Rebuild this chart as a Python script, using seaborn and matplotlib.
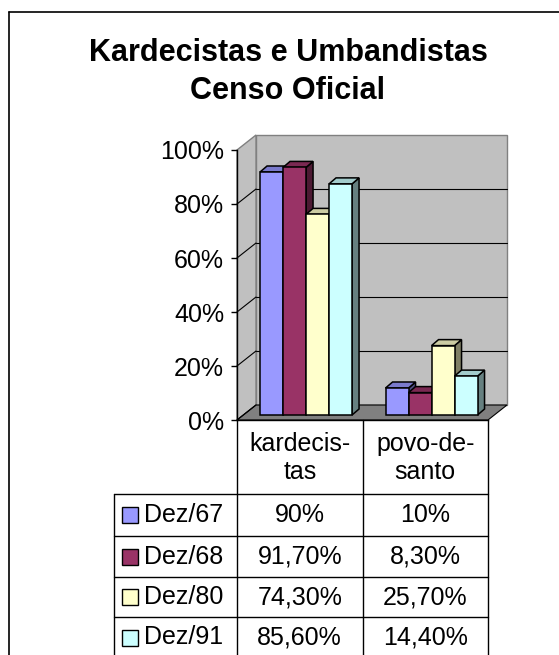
"""Kardecistas e Umbandistas - Censo Oficial (3d column chart with data table)."""

import numpy as np
import pandas as pd
import matplotlib
matplotlib.use('Agg')
import matplotlib.pyplot as plt
import matplotlib.transforms as mtransforms
from matplotlib.colors import to_rgb
from matplotlib.lines import Line2D
from matplotlib.patches import Polygon, Rectangle
import seaborn as sns

# Data
categorias = ['kardecistas', 'povo-de-santo']
rotulos_categorias = ['kardecis-\ntas', 'povo-de-\nsanto']
anos = ['Dez/67', 'Dez/68', 'Dez/80', 'Dez/91']
kardecistas = [90.0, 91.7, 74.3, 85.6]
povo_de_santo = [10.0, 8.3, 25.7, 14.4]
cores = ['#9999FF', '#993366', '#FFFFCC', '#CCFFFF']
yticks = [0, 20, 40, 60, 80, 100]

W, H, DPI = 559, 655, 100
FS = 18

sns.set_theme(style='white')
plt.rcParams['font.family'] = ['Liberation Sans', 'DejaVu Sans']

df = pd.DataFrame({
    'categoria': np.repeat(categorias, len(anos)),
    'ano': anos * len(categorias),
    'valor': kardecistas + povo_de_santo,
})


def fx(x):
    return x / W


def fy(y):
    return (H - y) / H


def shade(color, f):
    return tuple(c * f for c in to_rgb(color))


def fmt(v):
    if float(v).is_integer():
        return f'{int(v)}%'
    return f'{v:.2f}%'.replace('.', ',')


fig = plt.figure(figsize=(W / DPI, H / DPI), dpi=DPI)

# front plane of the 3d box (pixels)
x0, x1, y0, y1 = 237, 488, 420, 150
ax = fig.add_axes([fx(x0), fy(y0), (x1 - x0) / W, (y0 - y1) / H])
ax.patch.set_visible(False)

px_x = 2.0 / (x1 - x0)
px_y = 100.0 / (y0 - y1)


def shift(dx, dy):
    return ax.transData + mtransforms.ScaledTranslation(dx / DPI, dy / DPI, fig.dpi_scale_trans)


sns.barplot(data=df, x='categoria', y='valor', hue='ano', hue_order=anos,
            palette=cores, saturation=1, width=0.733, errorbar=None,
            edgecolor='black', linewidth=1.1, legend=False, ax=ax)
bars = sorted([p for p in ax.patches if isinstance(p, Rectangle)], key=lambda p: p.get_x())

ax.set_xlim(-0.5, 1.5)
ax.set_ylim(0, 100)

# walls and floor
depth_x, depth_y = 19, 15
ax.add_patch(Rectangle((-0.5, 0), 2, 100, transform=shift(depth_x, depth_y),
                       fc='#C0C0C0', ec='#808080', lw=1, zorder=0.5, clip_on=False))
ax.add_patch(Polygon([(-0.5, 0), (-0.5, 100), (-0.5 + depth_x * px_x, 100 + depth_y * px_y),
                      (-0.5 + depth_x * px_x, depth_y * px_y)],
                     fc='#C0C0C0', ec='#808080', lw=1, zorder=0.5, clip_on=False))
ax.add_patch(Polygon([(-0.5, 0), (1.5, 0), (1.5 + depth_x * px_x, depth_y * px_y),
                      (-0.5 + depth_x * px_x, depth_y * px_y)],
                     fc='#808080', ec='black', lw=0.8, zorder=0.6, clip_on=False))
for t in yticks[1:-1]:
    ax.plot([-0.5, 1.5], [t, t], transform=shift(depth_x, depth_y), color='black',
            lw=0.8, zorder=0.7, clip_on=False)
for t in yticks[:-1]:
    ax.plot([-0.5, -0.5 + depth_x * px_x], [t, t + depth_y * px_y], color='black',
            lw=0.8, zorder=0.7, clip_on=False)

# 3d columns
bar_t = shift(6.3, 5)
bdx, bdy = 7 * px_x, 6 * px_y
for i, p in enumerate(bars):
    x, w, h = p.get_x(), p.get_width(), p.get_height()
    fc = p.get_facecolor()
    z = 2 + i
    p.set_transform(bar_t)
    p.set_zorder(z + 0.2)
    p.set_clip_on(False)
    ax.add_patch(Polygon([(x + w, 0), (x + w, h), (x + w + bdx, h + bdy), (x + w + bdx, bdy)],
                         transform=bar_t, fc=shade(fc, 0.5), ec='black', lw=1.1,
                         zorder=z, clip_on=False))
    ax.add_patch(Polygon([(x, h), (x + w, h), (x + w + bdx, h + bdy), (x + bdx, h + bdy)],
                         transform=bar_t, fc=shade(fc, 0.8), ec='black', lw=1.1,
                         zorder=z + 0.1, clip_on=False))

# axes styling
for s in ['top', 'right']:
    ax.spines[s].set_visible(False)
for s in ['left', 'bottom']:
    ax.spines[s].set_color('black')
    ax.spines[s].set_linewidth(1)
    ax.spines[s].set_zorder(1)
ax.set_yticks(yticks)
ax.set_yticklabels([f'{t}%' for t in yticks])
ax.tick_params(axis='y', left=True, direction='out', length=4.3, width=1,
               color='black', pad=5, labelsize=FS, labelcolor='black')
ax.set_xticks([])
ax.set_xlabel('')
ax.set_ylabel('')

# data table
tb = mtransforms.blended_transform_factory(ax.transData, fig.transFigure)
row_lines = [494, 536, 577, 617, 658]
bottom = 660
line_kw = dict(color='black', lw=1)
fig.add_artist(Line2D([fx(114), fx(x1)], [fy(494), fy(494)], transform=fig.transFigure, **line_kw))
for y in row_lines[1:]:
    fig.add_artist(Line2D([fx(114), fx(x1)], [fy(y), fy(y)], transform=fig.transFigure, **line_kw))
fig.add_artist(Line2D([fx(114), fx(114)], [fy(494), fy(bottom)], transform=fig.transFigure, **line_kw))
for xv in [-0.5, 0.5, 1.5]:
    fig.add_artist(Line2D([xv, xv], [fy(y0), fy(bottom)], transform=tb, **line_kw))

for i, lab in enumerate(rotulos_categorias):
    fig.text(i, fy(458), lab, transform=tb, ha='center', va='center',
             fontsize=FS, linespacing=1.25, color='black')

valores = [kardecistas, povo_de_santo]
for r, ano in enumerate(anos):
    yc = (row_lines[r] + row_lines[r + 1]) / 2
    fig.add_artist(Rectangle((fx(122), fy(yc + 8)), 16 / W, 16 / H, transform=fig.transFigure,
                             fc=cores[r], ec='black', lw=1))
    fig.text(fx(144), fy(yc), ano, ha='left', va='center', fontsize=FS, color='black')
    for i, serie in enumerate(valores):
        fig.text(i, fy(yc), fmt(serie[r]), transform=tb, ha='center', va='center',
                 fontsize=FS, color='black')

# title
fig.text(fx(288), fy(60.7), 'Kardecistas e Umbandistas', ha='center', va='baseline',
         fontsize=22, fontweight='bold', color='black')
fig.text(fx(288), fy(99), 'Censo Oficial', ha='center', va='baseline',
         fontsize=22, fontweight='bold', color='black')

# chart area border
fig.add_artist(Line2D([fx(9), fx(9)], [fy(12), 0], transform=fig.transFigure, color='black', lw=1.2))
fig.add_artist(Line2D([fx(9), 1], [fy(12), fy(12)], transform=fig.transFigure, color='black', lw=1.2))

fig.savefig('out.png', dpi=DPI)
plt.close(fig)
